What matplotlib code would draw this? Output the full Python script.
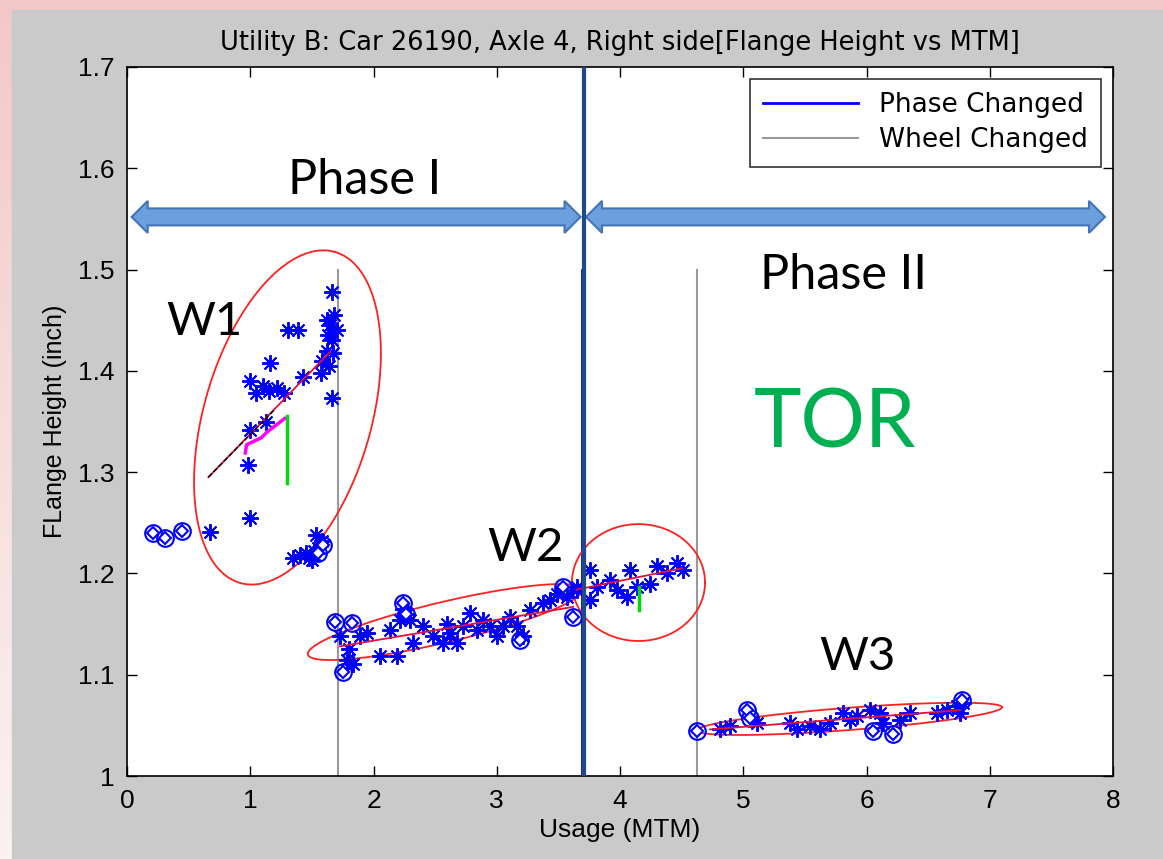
import numpy as np
import matplotlib.pyplot as plt
from matplotlib.patches import Polygon, Rectangle
from matplotlib.colors import LinearSegmentedColormap

# ---- wheel 1 (before 1.71 MTM)
w1_star_x = [1.66, 1.31, 1.39, 1.62, 1.65, 1.68, 1.63, 1.66, 1.70, 1.62, 1.67, 1.58, 1.64,
             1.66, 1.43, 1.57, 1.16, 1.00, 1.05, 1.10, 1.15, 1.22, 1.27, 1.13, 1.00, 0.98,
             1.00, 0.67, 1.53, 1.35, 1.40, 1.45, 1.48, 1.52, 1.55, 1.58, 1.50]
w1_star_y = [1.478, 1.440, 1.440, 1.450, 1.445, 1.455, 1.435, 1.430, 1.440, 1.420, 1.418, 1.410, 1.405,
             1.373, 1.394, 1.398, 1.408, 1.390, 1.378, 1.385, 1.380, 1.383, 1.378, 1.350, 1.342, 1.307,
             1.255, 1.241, 1.238, 1.215, 1.218, 1.220, 1.215, 1.222, 1.225, 1.232, 1.213]
w1_circ_x = [0.21, 0.31, 0.45, 1.55, 1.59]
w1_circ_y = [1.240, 1.235, 1.242, 1.220, 1.228]
w1_fit_x = [0.66, 1.65]
w1_fit_y = [1.295, 1.419]
w1_dash_x = [0.66, 1.20]
w1_dash_y = [1.295, 1.362]
w1_mag_x = [0.96, 0.97, 1.09, 1.14, 1.28]
w1_mag_y = [1.319, 1.327, 1.334, 1.340, 1.353]
w1_green_x = [1.30, 1.30]
w1_green_y = [1.289, 1.355]

# ---- wheel 2
w2_star_x = [1.728, 1.782, 1.836, 1.890, 1.945, 2.053, 2.188, 2.134, 2.215, 2.296, 2.323, 2.404,
             2.485, 2.567, 2.621, 2.675, 2.729, 2.783, 2.837, 2.891, 2.945, 2.999, 3.053, 3.107,
             3.161, 3.216, 3.270, 3.378, 3.432, 3.486, 3.567, 3.648, 3.757, 2.24, 2.27, 1.80, 2.60]
w2_star_y = [1.138, 1.115, 1.111, 1.138, 1.141, 1.118, 1.118, 1.144, 1.154, 1.154, 1.131, 1.148,
             1.138, 1.131, 1.141, 1.131, 1.148, 1.161, 1.144, 1.154, 1.148, 1.138, 1.148, 1.157,
             1.148, 1.138, 1.164, 1.171, 1.174, 1.180, 1.177, 1.187, 1.174, 1.165, 1.160, 1.125, 1.150]
w2_circ_x = [1.687, 1.823, 1.755, 2.242, 2.26, 3.188, 3.621, 3.540]
w2_circ_y = [1.152, 1.151, 1.103, 1.171, 1.160, 1.134, 1.157, 1.187]
w2_fit_x = [1.728, 3.621]
w2_fit_y = [1.128, 1.167]

# ---- after the phase change, same wheel
w2b_star_x = [3.648, 3.756, 3.756, 3.810, 3.918, 3.973, 4.054, 4.081, 4.135, 4.243, 4.297, 4.378, 4.459, 4.514]
w2b_star_y = [1.184, 1.203, 1.174, 1.187, 1.194, 1.184, 1.177, 1.203, 1.187, 1.190, 1.207, 1.200, 1.210, 1.203]
w2b_fit_x = [3.648, 4.50]
w2b_fit_y = [1.184, 1.205]
w2b_green_x = [4.154, 4.154]
w2b_green_y = [1.164, 1.187]

# ---- wheel 3
w3_star_x = [4.812, 4.893, 5.109, 5.380, 5.434, 5.542, 5.623, 5.704, 5.812, 5.866, 5.921, 6.029,
             6.110, 6.137, 6.272, 6.353, 6.570, 6.651, 6.732, 6.759, 6.786]
w3_star_y = [1.046, 1.049, 1.052, 1.052, 1.046, 1.049, 1.046, 1.052, 1.062, 1.055, 1.059, 1.065,
             1.062, 1.052, 1.055, 1.062, 1.062, 1.065, 1.069, 1.062, 1.072]
w3_circ_x = [4.622, 5.028, 5.055, 6.056, 6.218, 6.773]
w3_circ_y = [1.044, 1.065, 1.057, 1.044, 1.041, 1.075]
w3_fit_x = [4.73, 6.76]
w3_fit_y = [1.046, 1.065]

# change markers
phase_x = 3.695
phase_mark_x = 3.71
wheel_x = [1.712, 4.625]
marker_y = [1.0, 1.5]

# cluster outlines: centre and two half-axes (data units)
ell_cx = [1.302, 2.58, 4.15, 5.86]
ell_cy = [1.354, 1.152, 1.191, 1.0564]
ell_ux = [0.385, 1.112, 0.54, 1.24]
ell_uy = [0.1634, 0.0321, 0.0, 0.0115]
ell_vx = [0.653, 0.0379, 0.0, 0.005]
ell_vy = [-0.0228, -0.0194, 0.0577, -0.011]

# phase arrows
arrow_x0 = [0.038, 3.724]
arrow_x1 = [3.68, 7.935]
arrow_y = 1.552


def dbl_arrow(ax, x0, x1, y, body=0.0084, head=0.0158, hl=0.13):
    pts = [(x0, y), (x0 + hl, y + head), (x0 + hl, y + body), (x1 - hl, y + body),
           (x1 - hl, y + head), (x1, y), (x1 - hl, y - head), (x1 - hl, y - body),
           (x0 + hl, y - body), (x0 + hl, y - head)]
    ax.add_patch(Polygon(pts, closed=True, fc='#6b9fde', ec='#4474b4', lw=1.5, zorder=6))


fig = plt.figure(figsize=(11.63, 8.59), dpi=100)

# background: pink slide edge and grey figure panel
bg = fig.add_axes([0, 0, 1, 1], zorder=-10)
grad = np.linspace(0, 1, 256).reshape(-1, 1)
bg.imshow(grad, aspect='auto', extent=[0, 1, 0, 1], origin='lower',
          cmap=LinearSegmentedColormap.from_list('pk', ['#fbf2f2', '#f3c8c8']))
bg.add_patch(Rectangle((12 / 1163, 0), 1, 1 - 10 / 859, color='#cacaca', transform=bg.transAxes))
bg.set_xlim(0, 1)
bg.set_ylim(0, 1)
bg.axis('off')

ax = fig.add_axes([127 / 1163, 83 / 859, 986 / 1163, 709 / 859])
ax.set_facecolor('white')

t = np.linspace(0, 2 * np.pi, 300)
for i in range(len(ell_cx)):
    ax.plot(ell_cx[i] + ell_ux[i] * np.cos(t) + ell_vx[i] * np.sin(t),
            ell_cy[i] + ell_uy[i] * np.cos(t) + ell_vy[i] * np.sin(t),
            color='#ff2020', lw=1.3, zorder=3)

star = (8, 2, 0)
for sx, sy in [(w1_star_x, w1_star_y), (w2_star_x, w2_star_y), (w2b_star_x, w2b_star_y), (w3_star_x, w3_star_y)]:
    ax.plot(sx, sy, ls='none', marker=star, ms=12, mew=1.4, color='#0000ff', zorder=4)
for cx, cy in [(w1_circ_x, w1_circ_y), (w2_circ_x, w2_circ_y), (w3_circ_x, w3_circ_y)]:
    ax.plot(cx, cy, ls='none', marker='o', ms=12, mew=1.5, mfc='none', color='#0000ff', zorder=4)
    ax.plot(cx, cy, ls='none', marker='D', ms=6, mew=1.5, mfc='white', color='#0000ff', zorder=4)

for fx, fy in [(w1_fit_x, w1_fit_y), (w2_fit_x, w2_fit_y), (w2b_fit_x, w2b_fit_y), (w3_fit_x, w3_fit_y)]:
    ax.plot(fx, fy, color='#e0103a', lw=1.3, zorder=5)
ax.plot(w1_dash_x, w1_dash_y, color='black', lw=1, ls='--', zorder=5)
ax.plot(w1_mag_x, w1_mag_y, color='#ff00ff', lw=2.5, zorder=5)
ax.plot(w1_green_x, w1_green_y, color='#00dd00', lw=2.5, zorder=5)
ax.plot(w2b_green_x, w2b_green_y, color='#00dd00', lw=2.5, zorder=5)

ax.plot([phase_x, phase_x], marker_y, color='#0000ff', lw=2, label='Phase Changed', zorder=2)
for i, wx in enumerate(wheel_x):
    ax.plot([wx, wx], marker_y, color='#999999', lw=1.5, zorder=2,
            label='Wheel Changed' if i == 0 else None)
ax.axvline(phase_mark_x, color='#1f4a87', lw=3, zorder=7)

for x0, x1 in zip(arrow_x0, arrow_x1):
    dbl_arrow(ax, x0, x1, arrow_y)

big = dict(family='Lato', color='black', ha='center', va='center', zorder=8)
ax.text(1.93, 1.588, 'Phase I', fontsize=35, **big)
ax.text(5.81, 1.495, 'Phase II', fontsize=35, **big)
ax.text(0.63, 1.448, 'W1', fontsize=34, **big)
ax.text(3.23, 1.225, 'W2', fontsize=34, **big)
ax.text(5.93, 1.117, 'W3', fontsize=34, **big)
ax.text(5.74, 1.347, 'TOR', fontsize=58, family='Lato', color='#00b050', ha='center', va='center')

ax.set_xlim(0, 8)
ax.set_ylim(1, 1.7)
ax.set_xticks(range(9))
ax.set_yticks(np.arange(1.0, 1.71, 0.1))
ax.set_yticklabels(['1', '1.1', '1.2', '1.3', '1.4', '1.5', '1.6', '1.7'])
ax.tick_params(direction='in', length=7, width=1, top=True, right=True, labelsize=19, pad=9)
for lab in ax.get_xticklabels() + ax.get_yticklabels():
    lab.set_family('Liberation Sans')
for s in ax.spines.values():
    s.set_linewidth(1.2)

ax.set_title('Utility B: Car 26190, Axle 4, Right side[Flange Height vs MTM]',
             fontsize=18.5, family='DejaVu Sans', pad=12)
ax.set_xlabel('Usage (MTM)', fontsize=19, family='Liberation Sans', labelpad=4)
ax.set_ylabel('FLange Height (inch)', fontsize=18, family='Liberation Sans', labelpad=8)

leg = ax.legend(loc='upper right', handlelength=3.6, frameon=True, fancybox=False,
                edgecolor='black', borderaxespad=0.45, borderpad=0.5, labelspacing=0.35,
                prop={'family': 'DejaVu Sans', 'size': 19})
leg.get_frame().set_linewidth(1.2)
leg.set_zorder(9)

fig.savefig('out.png', dpi=100)
